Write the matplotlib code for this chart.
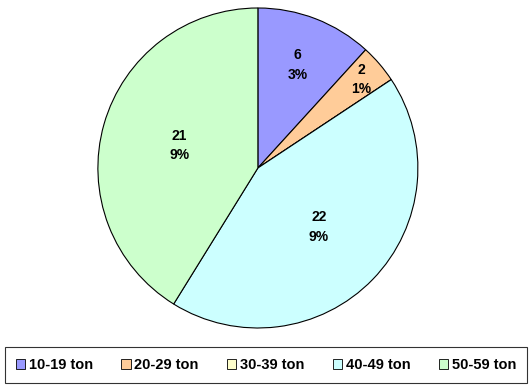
import numpy as np
import matplotlib.pyplot as plt

labels = ['10-19 ton', '20-29 ton', '30-39 ton', '40-49 ton', '50-59 ton']
values = [6, 2, 0, 22, 21]
pct_text = ['3%', '1%', '', '9%', '9%']
colors = ['#9999FF', '#FFCC99', '#FFFFCC', '#CCFFFF', '#CCFFCC']
label_r = [0.69, 0.85, 0.0, 0.53, 0.51]

plt.rcParams['font.family'] = ['Liberation Sans', 'DejaVu Sans']

fig = plt.figure(figsize=(5.29, 3.90), dpi=100)
ax = fig.add_axes([0.185, 0.159, 0.605, 0.8205])

wedges, _ = ax.pie(values, colors=colors, startangle=90, counterclock=False,
                   wedgeprops=dict(edgecolor='black', linewidth=0.8))
ax.set_aspect('equal')
ax.set_xlim(-1, 1)
ax.set_ylim(-1, 1)

for w, v, p, r in zip(wedges, values, pct_text, label_r):
    if v == 0:
        continue
    ang = np.deg2rad((w.theta1 + w.theta2) / 2)
    ax.text(r * np.cos(ang), r * np.sin(ang), f"{v}\n{p}", ha='center', va='center',
            fontsize=10, fontweight='bold', linespacing=1.5)

handles = [plt.Rectangle((0, 0), 1, 1, facecolor=c, edgecolor='black', linewidth=0.6)
           for c in colors]
leg = fig.legend(handles, labels, loc='lower left', ncol=5, mode='expand',
                 bbox_to_anchor=(5/529, 7/390, 522/529, 34/390),
                 prop=dict(weight='bold', size=10.5), fancybox=False,
                 handlelength=0.65, handleheight=0.65, handletextpad=0.25,
                 borderaxespad=0, borderpad=0.75, columnspacing=1.0)
leg.get_frame().set_edgecolor('black')
leg.get_frame().set_linewidth(0.8)

fig.savefig('out.png', dpi=100)
